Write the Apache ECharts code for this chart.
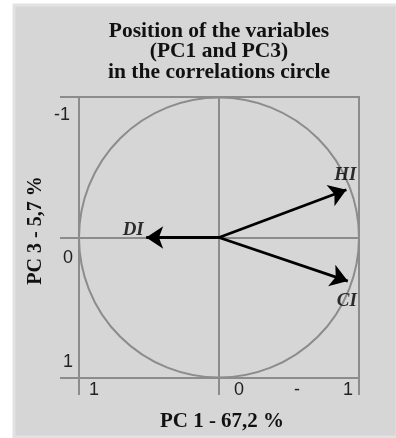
<!DOCTYPE html>
<html>
<head>
<meta charset="utf-8">
<script src="https://cdn.jsdelivr.net/npm/echarts@6/dist/echarts.min.js"></script>
<style>
html,body{margin:0;padding:0;background:#fff;}
#chart{width:396px;height:438px;}
</style>
</head>
<body>
<div id="chart"></div>
<script>
// ---- data ----
var variableNames = ['DI', 'HI', 'CI'];
var pc1Values = [0.52, -0.91, -0.92];   // horizontal axis (PC 1), axis runs 1 -> -1
var pc3Values = [0.0, -0.34, 0.31];     // vertical axis (PC 3), axis runs -1 -> 1
var xTickValues = [1, 0, -1];
var xTickLabels = ['1', '0', '-1'];
var yTickValues = [-1, 0, 1];
var yTickLabels = ['-1', '0', '1'];
var titleText = 'Position of the variables\n(PC1 and PC3)\nin the correlations circle';
var xAxisName = 'PC 1 - 67,2 %';
var yAxisName = 'PC 3 - 5,7 %';

// ---- styling ----
var lineGray = '#8c8c8c';
var panelGray = '#d6d6d6';
var serif = '"Liberation Serif", "DejaVu Serif", serif';
var sans = '"Liberation Sans", Arial, sans-serif';
var tickFont = 18;
var labelOffsets = {DI: [-13, -7], HI: [-1, -15], CI: [-1, 20]};

function xLabelFmt(v) {
  var i = xTickValues.indexOf(v);
  if (i < 0) return '';
  var t = xTickLabels[i];
  if (i === 0) return '{l|' + t + '}';
  if (i === 1) return '{c|' + t + '}';
  return '{m|' + t.charAt(0) + '}{r|' + t.slice(1) + '}';
}
function yLabelFmt(v) {
  var i = yTickValues.indexOf(v);
  if (i < 0) return '';
  var t = yTickLabels[i];
  return '{y' + i + '|' + t + '}';
}
function tk(pad) {
  return {fontFamily: sans, fontSize: tickFont, color: '#222', padding: pad};
}

var arrowData = variableNames.map(function (n, i) {
  return {name: n, coords: [[0, 0], [pc1Values[i], pc3Values[i]]]};
});
var pointData = variableNames.map(function (n, i) {
  return {name: n, value: [pc1Values[i], pc3Values[i]], label: {offset: labelOffsets[n]}};
});

var chart = echarts.init(document.getElementById('chart'), null, {renderer: 'canvas'});
chart.setOption({
  backgroundColor: '#ffffff',
  animation: false,
  graphic: [
    {type: 'rect', z: -10, silent: true, shape: {x: 14, y: 5, width: 383, height: 432},
     style: {fill: panelGray, stroke: '#e2e2e2', lineWidth: 3}},
    {type: 'text', z: 10, x: 219, y: 21, silent: true,
     style: {text: titleText, fill: '#111', font: 'bold 21.5px ' + serif, textAlign: 'center', textVerticalAlign: 'top', lineHeight: 20.5}}
  ],
  grid: {left: 79, top: 97, width: 280, height: 281, show: true, borderColor: lineGray, borderWidth: 2, backgroundColor: 'transparent'},
  xAxis: {
    type: 'value', min: -1, max: 1, interval: 1, inverse: true, position: 'bottom',
    name: xAxisName, nameLocation: 'middle', nameGap: 33, nameMoveOverlap: false,
    nameTextStyle: {fontFamily: serif, fontWeight: 'bold', fontSize: 21, color: '#111', padding: [0, 0, 0, 6]},
    axisLine: {show: true, onZero: false, lineStyle: {color: lineGray, width: 2}},
    axisTick: {show: true, length: 17, lineStyle: {color: lineGray, width: 2}},
    splitLine: {show: true, lineStyle: {color: lineGray, width: 2}},
    axisLabel: {
      margin: 3, formatter: xLabelFmt, color: '#222', fontFamily: sans, fontSize: tickFont,
      rich: {
        l: tk([0, 0, 0, 30]),
        c: tk([0, 0, 0, 40]),
        m: tk([0, 43, 0, 0]),
        r: tk([0, 71, 0, 0])
      }
    }
  },
  yAxis: {
    type: 'value', min: -1, max: 1, interval: 1, inverse: true, position: 'left',
    name: yAxisName, nameLocation: 'middle', nameGap: 33, nameRotate: 90, nameMoveOverlap: false,
    nameTextStyle: {fontFamily: serif, fontWeight: 'bold', fontSize: 20, color: '#111', padding: [0, 0, 0, 14]},
    axisLine: {show: true, onZero: false, lineStyle: {color: lineGray, width: 2}},
    axisTick: {show: true, length: 19, lineStyle: {color: lineGray, width: 2}},
    splitLine: {show: true, lineStyle: {color: lineGray, width: 2}},
    axisLabel: {
      margin: 6, formatter: yLabelFmt, color: '#222', fontFamily: sans, fontSize: tickFont,
      rich: {
        y0: tk([36, 3, 0, 0]),
        y1: tk([42, 0, 0, 0]),
        y2: tk([0, 0, 31, 0])
      }
    }
  },
  series: [
    {
      type: 'custom', silent: true, z: 3,
      data: [[0, 0, 1]],
      renderItem: function (params, api) {
        var c = api.coord([api.value(0), api.value(1)]);
        var r = api.size([api.value(2), api.value(2)])[0];
        return {type: 'circle', shape: {cx: c[0], cy: c[1], r: r},
                style: {fill: 'none', stroke: lineGray, lineWidth: 2}};
      }
    },
    {
      type: 'lines', coordinateSystem: 'cartesian2d', z: 5, silent: true,
      symbol: ['none', 'arrow'], symbolSize: 17,
      lineStyle: {color: '#000', width: 2.8, opacity: 1, curveness: 0},
      data: arrowData
    },
    {
      type: 'scatter', z: 6, silent: true, symbolSize: 1,
      itemStyle: {color: 'rgba(0,0,0,0)'},
      label: {show: true, position: 'inside', formatter: '{b}', color: '#000',
              fontFamily: serif, fontWeight: 'bold', fontStyle: 'italic', fontSize: 19},
      data: pointData
    }
  ]
});
</script>
</body>
</html>
